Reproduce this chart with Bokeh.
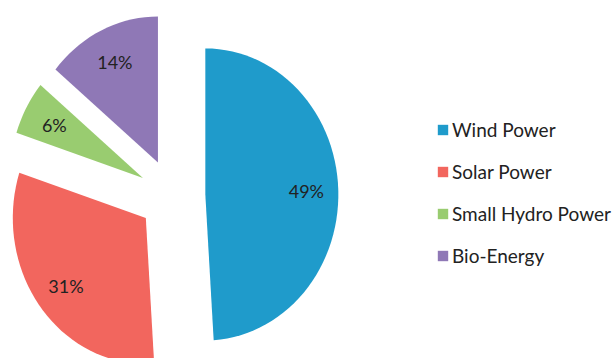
import math
from bokeh.plotting import figure
from bokeh.models import ColumnDataSource, Range1d, Legend, LegendItem
from bokeh.core.properties import value
from bokeh.embed import file_html
from bokeh.resources import INLINE

# ---- data ----
categories = ["Wind Power", "Solar Power", "Small Hydro Power", "Bio-Energy"]
shares = [49, 31, 6, 14]
labels = ["49%", "31%", "6%", "14%"]
colors = ["#1F9BCB", "#F2665E", "#99CC70", "#8F78B6"]

# ---- layout constants ----
EXPLODE = 0.25      # slice offset, in radius units
LABEL_R = 0.76      # label distance along bisector, in radius units
N_ARC = 120

total = float(sum(shares))
xs, ys, lx, ly = [], [], [], []
start = 0.0
for s in shares:
    span = 360.0 * s / total
    a0, a1 = start, start + span
    mid = math.radians((a0 + a1) / 2)
    cx = EXPLODE * math.sin(mid)
    cy = EXPLODE * math.cos(mid)
    px, py = [cx], [cy]
    n = max(4, int(N_ARC * span / 360.0) + 2)
    for i in range(n + 1):
        t = math.radians(a0 + (a1 - a0) * i / n)
        px.append(cx + math.sin(t))
        py.append(cy + math.cos(t))
    xs.append(px)
    ys.append(py)
    lx.append(cx + LABEL_R * math.sin(mid))
    ly.append(cy + LABEL_R * math.cos(mid))
    start = a1

src = ColumnDataSource(dict(xs=xs, ys=ys, color=colors, name=categories))
lsrc = ColumnDataSource(dict(x=lx, y=ly, text=labels))

p = figure(width=616, height=358, output_backend="svg", toolbar_location=None,
           x_range=Range1d(-1.290, 3.341), y_range=Range1d(-1.116, 1.336),
           min_border=0, background_fill_color="white", border_fill_color="white")
p.axis.visible = False
p.grid.visible = False
p.outline_line_color = None

r = p.patches("xs", "ys", source=src, fill_color="color", line_color=None)

p.text("x", "y", text="text", source=lsrc, text_font=value("Lato"),
       text_font_size="18px", text_color="#222222", text_align="center",
       text_baseline="middle")

items = [LegendItem(label=categories[i], renderers=[r], index=i) for i in range(len(categories))]
legend = Legend(items=items, location=(436, 91), orientation="vertical",
                glyph_width=13, glyph_height=13, label_standoff=3,
                label_text_font="Lato", label_text_font_size="19px",
                label_text_color="#222222", label_height=20, spacing=19,
                padding=0, margin=0, background_fill_alpha=0,
                border_line_alpha=0)
p.add_layout(legend)

open("out.html", "w").write(file_html(p, INLINE))
